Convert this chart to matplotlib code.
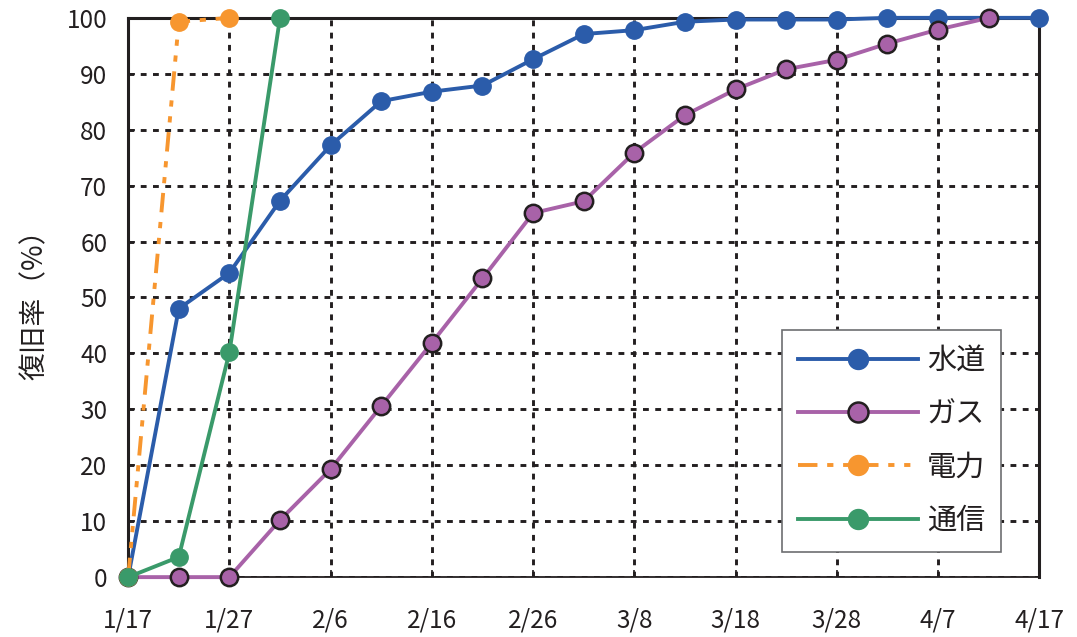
import matplotlib
matplotlib.use("Agg")
import matplotlib.pyplot as plt

plt.rcParams['font.family'] = ['Noto Sans CJK JP', 'DejaVu Sans']

# days since 1/17, one reading every 5 days
days = [0, 5, 10, 15, 20, 25, 30, 35, 40, 45, 50, 55, 60, 65, 70, 75, 80, 85, 90]
tick_days = [0, 10, 20, 30, 40, 50, 60, 70, 80, 90]
tick_labels = ["1/17", "1/27", "2/6", "2/16", "2/26", "3/8", "3/18", "3/28", "4/7", "4/17"]

water = [0, 48.0, 54.4, 67.3, 77.2, 85.1, 86.8, 87.9, 92.6, 97.1, 97.8, 99.3,
         99.7, 99.7, 99.7, 100, 100, 100, 100]
gas = [0, 0, 0, 10.2, 19.3, 30.6, 41.9, 53.4, 65.1, 67.2, 75.9, 82.6, 87.2,
       90.8, 92.5, 95.4, 97.9, 100]
power = [0, 99.3, 100]
telecom = [0, 3.6, 40.2, 100]

fig = plt.figure(figsize=(10.77, 6.37), dpi=100)
ax = fig.add_axes([0.119, 0.094, 0.846, 0.878])

ax.plot(days[:len(water)], water, c='#2b5caa', lw=2.8, marker='o', ms=12.5,
        mec='#2b5caa', clip_on=False, zorder=3, label="水道")
ax.plot(days[:len(gas)], gas, c='#a862a8', lw=2.8, marker='o', ms=12.5,
        mec='#231f20', mew=1.8, clip_on=False, zorder=4, label="ガス")
ax.plot(days[:len(power)], power, c='#f7962f', lw=2.8, marker='o', ms=12.5,
        ls=(0, (5, 2.5, 1.6, 2.5, 1.6, 2.5)), mec='#f7962f', clip_on=False,
        zorder=5, label="電力")
ax.plot(days[:len(telecom)], telecom, c='#3a9a6a', lw=2.8, marker='o', ms=12.5,
        mec='#3a9a6a', clip_on=False, zorder=6, label="通信")

ax.set_xlim(0, 90)
ax.set_ylim(0, 100)
ax.set_xticks(tick_days)
ax.set_xticklabels(tick_labels)
ax.set_yticks(range(0, 101, 10))

ax.grid(True, color='#231f20', ls=(0, (2, 2.2)), lw=2.1)
ax.tick_params(axis='both', direction='in', length=5, width=1.2, colors='#231f20',
               labelsize=17.5)
ax.tick_params(axis='x', pad=22)
ax.tick_params(axis='y', pad=15)
for s in ['left', 'top', 'right']:
    ax.spines[s].set_linewidth(2.2)
    ax.spines[s].set_color('#231f20')
ax.spines['bottom'].set_linewidth(1.3)
ax.spines['bottom'].set_color('#231f20')

ax.set_ylabel("復旧率（%）", fontsize=20, labelpad=12, color='#231f20')

leg = ax.legend(loc='lower right', bbox_to_anchor=(0.958, 0.045), fontsize=21,
                handlelength=4.1, labelspacing=0.8, borderpad=0.55,
                borderaxespad=0, handletextpad=0.3, markerscale=1.15,
                fancybox=False, framealpha=1, edgecolor='#6d6e71')
leg.get_frame().set_linewidth(1.2)
for t in leg.get_texts():
    t.set_color('#231f20')

fig.savefig("out.png", dpi=100)
